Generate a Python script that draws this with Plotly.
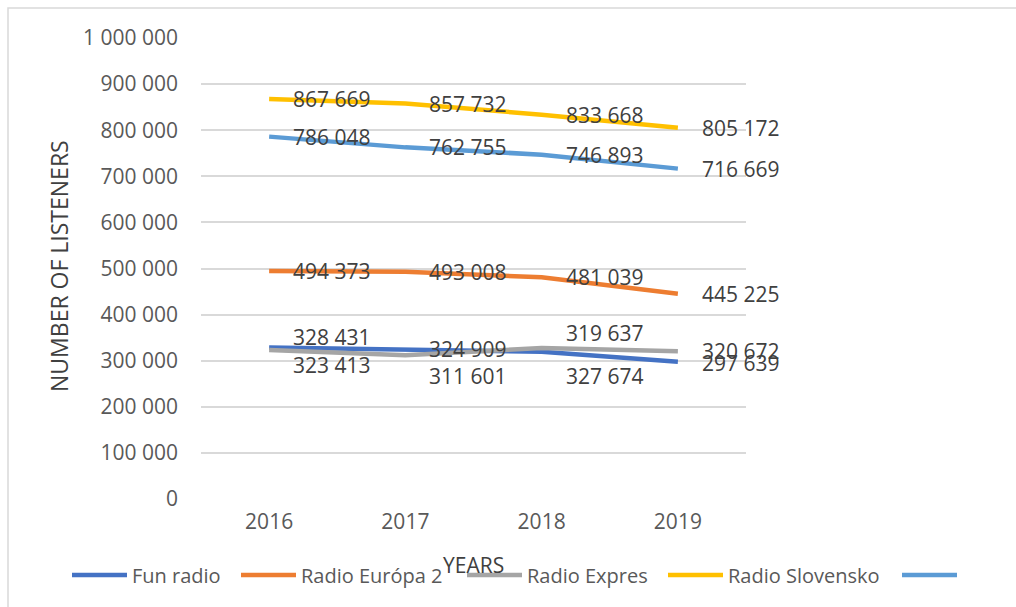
import plotly.graph_objects as go

years = ["2016", "2017", "2018", "2019"]
series_names = ["Fun radio", "Radio Európa 2", "Radio Expres", "Radio Slovensko", " "]
fun_radio = [328431, 324909, 319637, 297639]
radio_europa2 = [494373, 493008, 481039, 445225]
radio_expres = [323413, 311601, 327674, 320672]
radio_slovensko = [867669, 857732, 833668, 805172]
unnamed_series = [786048, 762755, 746893, 716669]
y_ticks = [0, 100000, 200000, 300000, 400000, 500000, 600000, 700000, 800000, 900000, 1000000]

values = [fun_radio, radio_europa2, radio_expres, radio_slovensko, unnamed_series]
colors = ["#4472C4", "#ED7D31", "#A5A5A5", "#FFC000", "#5B9BD5"]
# vertical nudges of data labels (px), to mimic the reference placement
label_shift = [
    [11, 0, 19, -1],
    [0, 0, 0, 0],
    [-15, -21, -28, 0],
    [0, 0, 0, 0],
    [0, 0, 0, 0],
]
# left edge (px) of each legend entry's line symbol in the reference
legend_left_px = [73, 242, 468, 669, 903]

FONT = "Open Sans"
xpos = list(range(len(years)))

def fmt(v):
    return f"{v:,}".replace(",", " ")

L, R, T, B = 201, 746, 38, 499
W, H = 1016, 607
pw, ph = R - L, B - T

def px_x(x):
    return (x - L) / pw

def px_y(y):
    return (B - y) / ph

legend_ids = ["legend"] + [f"legend{i}" for i in range(2, len(series_names) + 1)]

fig = go.Figure()
for name, vals, col, lid in zip(series_names, values, colors, legend_ids):
    fig.add_trace(go.Scatter(
        x=xpos, y=vals, name=name, mode="lines",
        line=dict(color=col, width=4.5), legend=lid,
    ))

annotations = []
for vals, shifts in zip(values, label_shift):
    for x, v, s in zip(xpos, vals, shifts):
        annotations.append(dict(
            x=x, y=v, xref="x", yref="y", text=fmt(v), showarrow=False,
            xanchor="left", yanchor="middle", xshift=22, yshift=s,
            font=dict(family=FONT, size=21, color="#404040"),
        ))

annotations.append(dict(
    x=px_x(59), y=px_y(266), xref="paper", yref="paper", text="NUMBER OF LISTENERS",
    textangle=-90, showarrow=False, xanchor="center", yanchor="middle",
    font=dict(family=FONT, size=23, color="#404040"),
))
annotations.append(dict(
    x=px_x(473), y=px_y(565), xref="paper", yref="paper", text="YEARS",
    showarrow=False, xanchor="center", yanchor="middle",
    font=dict(family=FONT, size=21, color="#404040"),
))

legend_layout = {}
for lid, lx in zip(legend_ids, legend_left_px):
    legend_layout[lid] = dict(
        orientation="h", xref="paper", yref="paper",
        x=px_x(lx - 6), y=px_y(575), xanchor="left", yanchor="middle",
        font=dict(family=FONT, size=20, color="#595959"),
        itemwidth=55, bgcolor="rgba(0,0,0,0)", borderwidth=0,
    )

fig.update_layout(
    width=W, height=H,
    margin=dict(l=L, r=W - R, t=T, b=H - B, autoexpand=False),
    paper_bgcolor="white", plot_bgcolor="white",
    separators=". ",
    showlegend=True,
    xaxis=dict(
        range=[-0.5, 3.5], tickvals=xpos, ticktext=years,
        showgrid=False, zeroline=False, showline=False, automargin=False,
        ticks="", tickfont=dict(family=FONT, size=21, color="#595959"),
        ticklabelstandoff=8,
    ),
    yaxis=dict(
        range=[0, 1000000], tickvals=y_ticks, tickformat=",d",
        showgrid=True, gridcolor="#D9D9D9", gridwidth=1.5, automargin=False,
        zeroline=False, showline=False, ticks="",
        tickfont=dict(family=FONT, size=21, color="#595959"),
        ticklabelstandoff=22,
    ),
    annotations=annotations,
    shapes=[dict(
        type="rect", xref="paper", yref="paper",
        x0=px_x(8), y0=px_y(8), x1=px_x(1100), y1=px_y(700),
        line=dict(color="#D9D9D9", width=1.5), fillcolor="rgba(0,0,0,0)",
        layer="below",
    )],
    **legend_layout,
)

fig.write_html(
    "out.html",
    config={"displayModeBar": False},
    post_script="document.body.style.margin='0';document.body.style.overflow='hidden';",
)
